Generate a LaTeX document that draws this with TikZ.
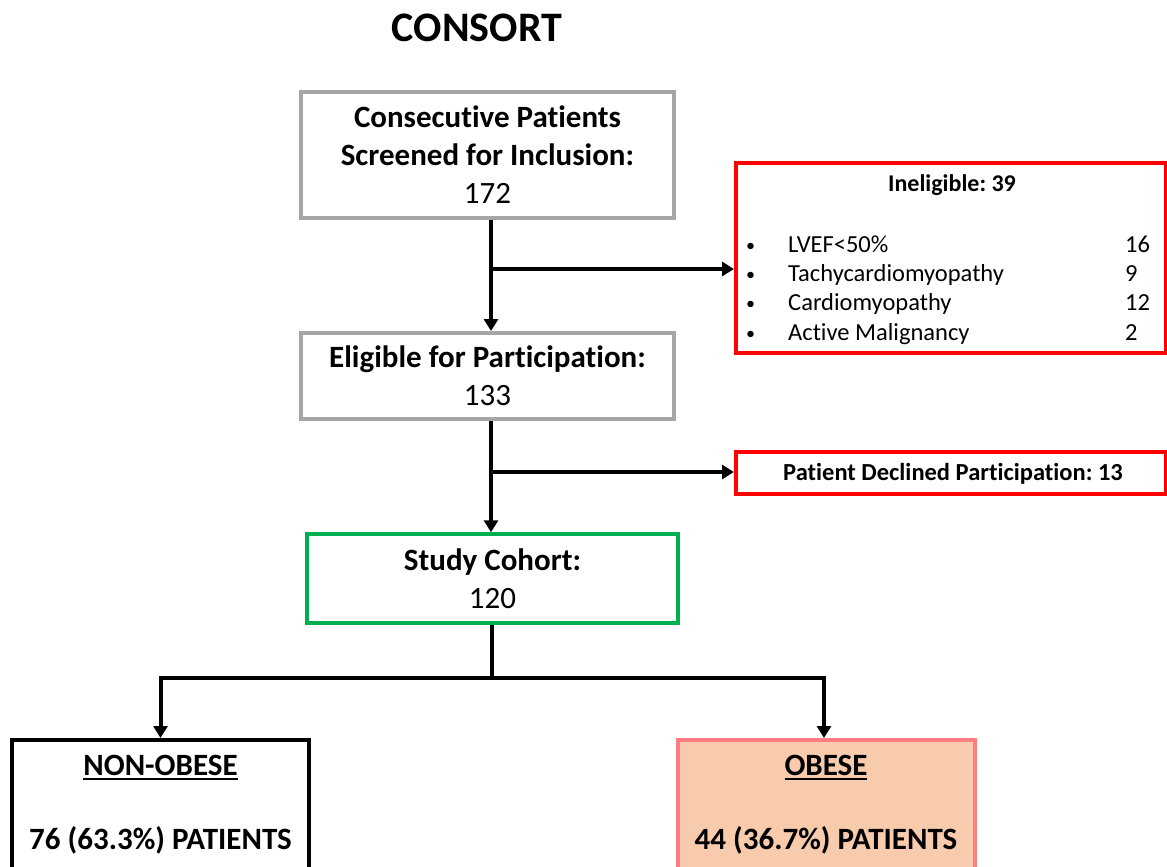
\documentclass[tikz,border=0pt]{standalone}
\usepackage{fontspec}
\setmainfont{Carlito}[Ligatures=NoCommon]
\usetikzlibrary{arrows.meta,calc}
\frenchspacing

\definecolor{boxgray}{HTML}{A6A6A6}
\definecolor{boxred}{HTML}{FF0000}
\definecolor{boxgreen}{HTML}{00B050}
\definecolor{peach}{HTML}{F8CBAD}
\definecolor{peachline}{HTML}{FF7C80}

% thicker underline set a little lower
\newcommand{\ulbox}[1]{\setbox0\hbox{#1}\leavevmode\rlap{\rule[-4.5pt]{\wd0}{2pt}}\box0}

\begin{document}
\begin{tikzpicture}[x=1pt,y=-1pt,
  stagebox/.style={draw=boxgray, line width=4pt, rectangle, inner sep=0pt, align=center,
    font=\fontsize{31}{38}\selectfont},
  exclbox/.style={draw=boxred, line width=4pt, rectangle, inner sep=0pt, fill=white},
  cohortbox/.style={draw=boxgreen, line width=3.5pt, rectangle, inner sep=0pt, align=center,
    font=\fontsize{31}{38}\selectfont},
  groupbox/.style={line width=4pt, rectangle, inner sep=0pt, minimum width=297pt, minimum height=140pt},
  bigtext/.style={font=\fontsize{31}{36}\selectfont\bfseries, inner sep=0pt},
  listtext/.style={font=\fontsize{24.5}{28}\selectfont, inner sep=0pt, anchor=base west},
  link/.style={line width=4pt},
  flow/.style={line width=4pt, -{Triangle[width=14pt,length=12pt]}}
]
\useasboundingbox (0,0) rectangle (1167,867);
\clip (0,0) rectangle (1167,867);

% heading
\node[font=\fontsize{42}{50}\selectfont\bfseries, inner sep=0pt] (title) at (477,28) {CONSORT};

% main flow boxes
\node[stagebox, minimum width=373pt, minimum height=126pt] (screen) at (487.5,155)
  {\textbf{Consecutive Patients}\\\textbf{Screened for Inclusion:}\\172};
\node[stagebox, minimum width=373pt, minimum height=86pt] (elig) at (487.5,376)
  {\textbf{Eligible for Participation:}\\133};
\node[cohortbox, minimum width=371pt, minimum height=89pt] (cohort) at (492.5,578.5)
  {\textbf{Study Cohort:}\\120};

% exclusion boxes
\node[exclbox, minimum width=430pt, minimum height=190pt] (inel) at (951,258) {};
\node[font=\fontsize{24}{28}\selectfont\bfseries, inner sep=0pt] (ineltitle) at (952,185) {Ineligible: 39};
\foreach \i/\y/\lab/\n in {1/252/LVEF<50\%/16, 2/281/Tachycardiomyopathy/9,
                           3/310/Cardiomyopathy/12, 4/340/Active Malignancy/2} {
  \node[listtext, font=\fontsize{18}{20}\selectfont] (bul\i) at (746,\y-1) {\textbullet};
  \node[listtext] (item\i) at (788,\y) {\lab};
  \node[listtext] (num\i) at (1125,\y) {\n};
}
\node[exclbox, minimum width=430pt, minimum height=42pt] (decl) at (951,473) {};
\node[font=\fontsize{24.5}{28}\selectfont\bfseries, inner sep=0pt] (decltext) at (953,474)
  {Patient Declined Participation: 13};

% outcome groups
\node[groupbox, draw=black] (nonob) at (160.5,810) {};
\node[bigtext] (nonobhead) at (160.5,768) {\ulbox{NON-OBESE}};
\node[bigtext] (nonobcount) at (160.5,840) {76 (63.3\%) PATIENTS};
\node[groupbox, draw=peachline, fill=peach] (obese) at (826,810) {};
\node[bigtext] (obesehead) at (826,768) {\ulbox{OBESE}};
\node[bigtext] (obesecount) at (826,840) {44 (36.7\%) PATIENTS};

% connectors
\coordinate (j1) at (491,269);
\coordinate (j2) at (491,472);
\coordinate (split) at (492,678);
\draw[flow] (screen.south -| j1) -- (elig.north -| j1);
\draw[flow] (j1) -- (inel.west |- j1);
\draw[flow] (elig.south -| j2) -- (cohort.north -| j2);
\draw[flow] (j2) -- (decl.west |- j2);
\draw[link] (cohort.south -| split) -- (split);
\draw[flow] ([xshift=2pt]split) -| (nonob.north);
\draw[flow] ([xshift=-2pt]split) -| ([xshift=-2pt]obese.north);
\end{tikzpicture}
\end{document}
